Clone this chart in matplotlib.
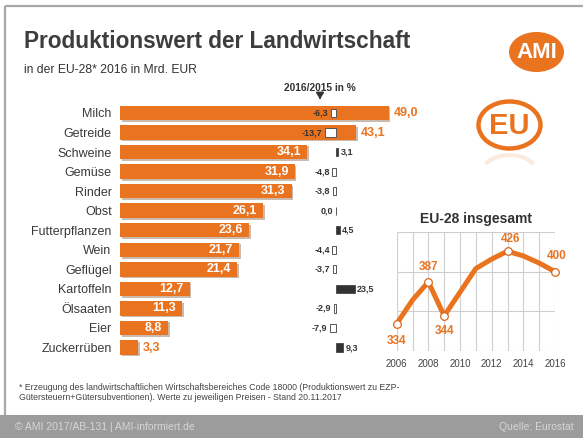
import matplotlib
matplotlib.use("Agg")
import matplotlib.pyplot as plt
import matplotlib.patheffects as pe
from matplotlib.patches import Ellipse, Rectangle, Arc
from matplotlib import font_manager

# ---- data -------------------------------------------------------------
categories = ["Milch", "Getreide", "Schweine", "Gemüse", "Rinder", "Obst",
              "Futterpflanzen", "Wein", "Geflügel", "Kartoffeln", "Ölsaaten",
              "Eier", "Zuckerrüben"]
values = [49.0, 43.1, 34.1, 31.9, 31.3, 26.1, 23.6, 21.7, 21.4, 12.7, 11.3, 8.8, 3.3]
changes = [-6.3, -13.7, 3.1, -4.8, -3.8, 0.0, 4.5, -4.4, -3.7, 23.5, -2.9, -7.9, 9.3]

years = [2006, 2007, 2008, 2009, 2010, 2011, 2012, 2013, 2014, 2015, 2016]
totals = [334, 364, 387, 344, 374, 404, 416, 426, 420, 411, 400]
labelled_years = [2006, 2008, 2009, 2013, 2016]
year_ticks = [2006, 2008, 2010, 2012, 2014, 2016]

# ---- style ------------------------------------------------------------
ORANGE = "#E9731F"
DARK = "#3a3a3a"
plt.rcParams["font.family"] = ["Liberation Sans", "DejaVu Sans"]
_names = {f.name for f in font_manager.fontManager.ttflist}
NARROW = "Liberation Sans Narrow" if "Liberation Sans Narrow" in _names else "Liberation Sans"
SMALL_SIZE = 7.0 if NARROW == "Liberation Sans Narrow" else 6.5

W, H = 583, 438
fig = plt.figure(figsize=(W / 100, H / 100), dpi=100)
fig.patch.set_facecolor("white")


def box(x0, y0, x1, y1):
    """Axes rectangle from pixel coordinates measured from the top left."""
    return [x0 / W, 1 - y1 / H, (x1 - x0) / W, (y1 - y0) / H]


def fmt(v):
    return f"{v:.1f}".replace(".", ",")


# ---- page canvas (frame, titles, logos, footer) -----------------------
canvas = fig.add_axes([0, 0, 1, 1], zorder=0)
canvas.set_xlim(0, W)
canvas.set_ylim(H, 0)
canvas.axis("off")

canvas.plot([5, W], [6, 6], color="#a8a8a8", lw=1.6, solid_capstyle="butt")
canvas.plot([5, 5], [6, 415], color="#a8a8a8", lw=1.6, solid_capstyle="butt")
canvas.add_patch(Rectangle((0, 414.5), W, H - 414.5, fc="#9c9c9c", ec="none"))

canvas.text(24, 48, "Produktionswert der Landwirtschaft", fontsize=16.3,
            fontweight="bold", color="#3d3d3d", va="baseline", ha="left")
canvas.text(24, 73, "in der EU-28* 2016 in Mrd. EUR", fontsize=8.7,
            color="#333333", va="baseline", ha="left")

# AMI logo
canvas.add_patch(Ellipse((536.5, 52), 55, 40, fc=ORANGE, ec="none"))
canvas.text(537, 53, "AMI", color="white", fontsize=16, fontweight="bold",
            ha="center", va="center")

# EU logo with a faint reflection underneath
canvas.add_patch(Ellipse((509.5, 125), 62, 47, fill=False, ec=ORANGE, lw=3.2))
canvas.text(509, 126.5, "EU", color=ORANGE, fontsize=21,
            fontweight="bold", ha="center", va="center")
canvas.add_patch(Arc((509.5, 178), 61, 46, theta1=210, theta2=330,
                     ec=ORANGE, lw=3.0, alpha=0.14))

# column header for the change values
canvas.text(320, 88, "2016/2015 in %", fontsize=7.3,
            fontweight="bold", family=NARROW, color="#333333",
            ha="center", va="center")
canvas.annotate("", xy=(320, 102), xytext=(320, 94),
                arrowprops=dict(arrowstyle="-|>,head_length=0.35,head_width=0.22",
                                color="#333333", lw=1.4))

# footnote and footer
canvas.text(19, 387, "* Erzeugung des landwirtschaftlichen Wirtschaftsbereiches Code 18000 "
            "(Produktionswert zu EZP-", fontsize=6.3, color="#444444",
            ha="left", va="center")
canvas.text(19, 398, "Gütersteuern+Gütersubventionen). Werte zu jeweiligen Preisen - "
            "Stand 20.11.2017", fontsize=6.3, color="#444444", ha="left", va="center")
canvas.text(15, 426.5, "© AMI 2017/AB-131 | AMI-informiert.de", fontsize=7.5,
            color="#d6d6d6", ha="left", va="center")
canvas.text(574, 426.5, "Quelle: Eurostat", fontsize=7.5, color="#d6d6d6",
            ha="right", va="center")

# ---- horizontal bars: production value --------------------------------
PX_PER_UNIT = 5.48
ROW_TOP, ROW_BOTTOM = 103.2, 357.3
n = len(categories)
ax = fig.add_axes(box(120, ROW_TOP, 120 + 51 * PX_PER_UNIT, ROW_BOTTOM), zorder=1)
ax.patch.set_alpha(0)
ax.set_xlim(0, 51)
ax.set_ylim(n - 0.5, -0.5)
ax.barh(range(n), values, height=0.74, color=ORANGE,
        path_effects=[pe.SimplePatchShadow(offset=(1.2, -1.2),
                                           shadow_rgbFace="#6b3a18", alpha=0.35),
                      pe.Normal()])
ax.set_yticks(range(n), categories)
ax.tick_params(axis="y", length=0, pad=6, labelsize=9, labelcolor=DARK)
ax.set_xticks([])
for s in ax.spines.values():
    s.set_visible(False)

for i, v in enumerate(values):
    if v > 40 or v < 5:
        ax.annotate(fmt(v), xy=(v, i), xytext=(3.5, 0), textcoords="offset points",
                    ha="left", va="center", color=ORANGE, fontsize=9,
                    fontweight="bold")
    else:
        ax.annotate(fmt(v), xy=(v, i), xytext=(-4.3, 0), textcoords="offset points",
                    ha="right", va="center", color="white", fontsize=9,
                    fontweight="bold")

# ---- small bars: change 2016/2015 in % --------------------------------
ZERO_X, PX_PER_PCT = 336, 0.8
cx = fig.add_axes(box(290, ROW_TOP, 390, ROW_BOTTOM), zorder=2)
cx.patch.set_alpha(0)
cx.set_xlim((290 - ZERO_X) / PX_PER_PCT, (390 - ZERO_X) / PX_PER_PCT)
cx.set_ylim(n - 0.5, -0.5)
cx.axis("off")
for i, c in enumerate(changes):
    if c > 0:
        cx.barh(i, c, height=0.42, color="#333333", ec="#333333", lw=0.5)
        cx.annotate(fmt(c), xy=(c, i), xytext=(1.5, 0), textcoords="offset points",
                    ha="left", va="center", fontsize=SMALL_SIZE,
                    fontweight="bold", family=NARROW, color="#333333")
    else:
        cx.barh(i, c, height=0.42, color="white", ec="#555555", lw=0.7)
        cx.annotate(fmt(c), xy=(c, i), xytext=(-1.8, 0), textcoords="offset points",
                    ha="right", va="center", fontsize=SMALL_SIZE,
                    fontweight="bold", family=NARROW, color="#333333")

# ---- line chart: EU-28 total ------------------------------------------
lx = fig.add_axes(box(396.7, 232.3, 555, 350.5), zorder=3)
lx.set_facecolor("white")
lx.set_xlim(2006, 2016)
lx.set_ylim(300, 450)
lx.set_xticks(years, [str(y) if y in year_ticks else "" for y in years])
lx.set_yticks([300, 350, 400, 450], [])
lx.grid(True, color="#cfcfcf", lw=0.8)
lx.set_axisbelow(True)
lx.tick_params(length=0, pad=6, labelsize=7.0, labelcolor="#444444")
for lab in lx.get_xticklabels():
    lab.set_family(NARROW)
for s in lx.spines.values():
    s.set_visible(False)
lx.set_title("EU-28 insgesamt", fontsize=10, fontweight="bold", color="#333333",
             pad=7)

lx.plot(years, totals, color=ORANGE, lw=3.6, solid_joinstyle="round",
        solid_capstyle="round", clip_on=False, zorder=3)
lab_vals = [totals[years.index(y)] for y in labelled_years]
lx.plot(labelled_years, lab_vals, "o", ms=5.5, mfc="white", mec="#d8661c",
        mew=0.9, clip_on=False, zorder=4)
offsets = {2006: (0, -12.5), 2008: (0, 10.5), 2009: (0, -11), 2013: (2, 8.5),
           2016: (1, 11.5)}
for y, v in zip(labelled_years, lab_vals):
    dx, dy = offsets[y]
    lx.annotate(str(v), xy=(y, v), xytext=(dx, dy), textcoords="offset points",
                ha="center", va="center", fontsize=8.5, fontweight="bold",
                color=ORANGE, annotation_clip=False)

fig.savefig("out.png", dpi=100, facecolor="white")
